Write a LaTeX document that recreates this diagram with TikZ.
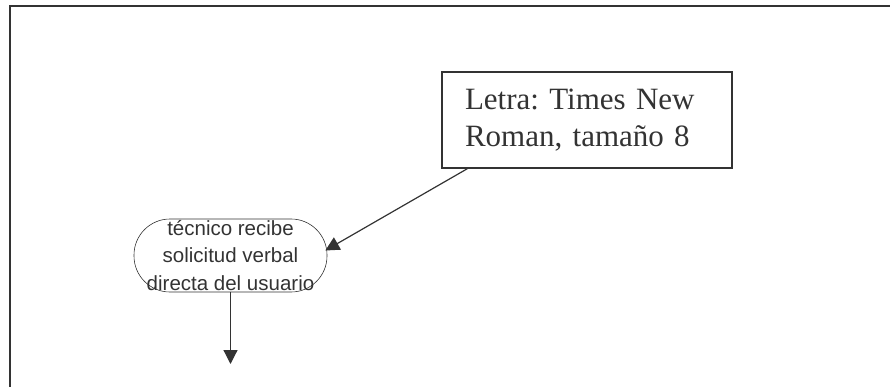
\documentclass[tikz,border=0pt]{standalone}
\usepackage{fontspec}
\setmainfont{Liberation Serif}
\newfontfamily\arialf{Liberation Sans}
\usetikzlibrary{arrows.meta,calc}
\definecolor{ink}{HTML}{333333}
\tikzset{
  frameline/.style={draw=ink, line width=1.6pt},
  notebox/.style={draw=ink, line width=1.5pt, text=ink, inner xsep=23pt, inner ysep=0pt,
    text width=244pt, align=left, minimum height=96pt,
    font=\frenchspacing\fontsize{31}{37.6}\selectfont},
  procbox/.style={draw=ink, line width=0.6pt, text=ink, rounded corners=36pt, inner sep=0pt,
    minimum width=193pt, minimum height=73pt, align=center,
    font=\arialf\fontsize{20.5}{27.5}\selectfont},
  flow/.style={draw=ink, line width=1.2pt, -{Triangle[length=14pt,width=14pt]}},
}
\begin{document}
\begin{tikzpicture}[x=1pt,y=-1pt]
  \useasboundingbox (0,0) rectangle (890,387);
  % page frame (open to the right and bottom)
  \draw[frameline] (890,6.2) -- (10,6.2) -- (10,387);
  % note box
  \node[notebox] (note) at (587,120) {Letra: Times New\\Roman, tamaño 8};
  % process step
  \node[procbox] (proc) at (230.5,255.5) {técnico recibe\\solicitud verbal\\directa del usuario};
  \coordinate (next) at (230.5,364);
  % connectors
  \draw[flow] ($(note.south west)+(26,0)$) -- ($(proc.east)+(-2,-5)$);
  \draw[flow] (proc.south) -- (next);
\end{tikzpicture}
\end{document}
